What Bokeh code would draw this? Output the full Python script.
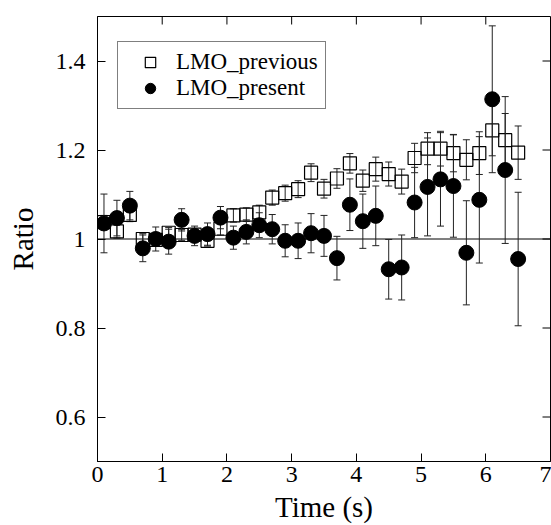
import math
from bokeh.plotting import figure
from bokeh.models import (FixedTicker, Span, Legend, LegendItem,
                          CustomJSTickFormatter, Range1d, ColumnDataSource)
from bokeh.embed import file_html
from bokeh.resources import INLINE

# ---- data ----
time_s = [0.1, 0.3, 0.5, 0.7, 0.9, 1.1, 1.3, 1.5, 1.7, 1.9, 2.1, 2.3, 2.5, 2.7,
          2.9, 3.1, 3.3, 3.5, 3.7, 3.9, 4.1, 4.3, 4.5, 4.7, 4.9, 5.1, 5.3, 5.5,
          5.7, 5.9, 6.1, 6.3, 6.5]

previous_ratio = [1.038, 1.017, 1.054, 1.000, 0.998, 1.014, 1.009, 1.010, 0.996,
                  1.023, 1.053, 1.055, 1.060, 1.093, 1.103, 1.112, 1.149, 1.113,
                  1.136, 1.170, 1.131, 1.157, 1.146, 1.129, 1.182, 1.203, 1.203,
                  1.193, 1.178, 1.193, 1.244, 1.222, 1.194]
previous_err = [0.015, 0.015, 0.015, 0.012, 0.012, 0.012, 0.012, 0.012, 0.012,
                0.014, 0.015, 0.015, 0.016, 0.017, 0.018, 0.019, 0.020, 0.021,
                0.022, 0.022, 0.024, 0.027, 0.027, 0.028, 0.033, 0.036, 0.039,
                0.042, 0.045, 0.048, 0.057, 0.060, 0.060]

present_ratio = [1.035, 1.047, 1.075, 0.979, 1.000, 0.994, 1.043, 1.007, 1.011,
                 1.048, 1.003, 1.016, 1.031, 1.022, 0.996, 0.996, 1.013, 1.007,
                 0.957, 1.077, 1.040, 1.052, 0.932, 0.936, 1.082, 1.117, 1.134,
                 1.119, 0.969, 1.088, 1.314, 1.155, 0.955]
present_err = [0.066, 0.040, 0.032, 0.030, 0.027, 0.028, 0.025, 0.022, 0.025,
               0.025, 0.026, 0.027, 0.028, 0.033, 0.036, 0.040, 0.044, 0.046,
               0.049, 0.058, 0.061, 0.067, 0.067, 0.073, 0.079, 0.110, 0.105,
               0.115, 0.117, 0.142, 0.165, 0.165, 0.150]

x_ticks = [0, 1, 2, 3, 4, 5, 6, 7]
y_ticks = [0.6, 0.8, 1.0, 1.2, 1.4]
X_MIN, X_MAX = 0, 7
Y_MIN, Y_MAX = 0.5, 1.5

FONT = "Liberation Serif"

prev_src = ColumnDataSource(dict(
    x=time_s, y=previous_ratio,
    lo=[v - e for v, e in zip(previous_ratio, previous_err)],
    hi=[v + e for v, e in zip(previous_ratio, previous_err)]))
pres_src = ColumnDataSource(dict(
    x=time_s, y=present_ratio,
    lo=[v - e for v, e in zip(present_ratio, present_err)],
    hi=[v + e for v, e in zip(present_ratio, present_err)]))

p = figure(width=551, height=525, x_range=Range1d(X_MIN, X_MAX),
           y_range=Range1d(Y_MIN, Y_MAX),
           output_backend="svg", toolbar_location=None,
           min_border_left=97, min_border_right=1, min_border_top=16,
           min_border_bottom=63)
p.xgrid.visible = False
p.ygrid.visible = False
p.outline_line_color = "black"
p.outline_line_width = 1
p.outline_line_alpha = 1
p.background_fill_color = "white"
p.border_fill_color = "white"

p.xaxis.ticker = FixedTicker(ticks=x_ticks)
p.yaxis.ticker = FixedTicker(ticks=y_ticks)
p.yaxis.formatter = CustomJSTickFormatter(code="return String(Math.round(tick*10)/10);")

for ax in p.axis:
    ax.major_tick_in = 8
    ax.major_tick_out = 0
    ax.minor_tick_in = 0
    ax.minor_tick_out = 0
    ax.axis_line_color = "black"
    ax.major_tick_line_color = "black"
    ax.major_label_text_font = FONT
    ax.major_label_text_color = "black"
    ax.major_label_text_font_size = "24px"
    ax.axis_label_text_font = FONT
    ax.axis_label_text_font_style = "normal"
    ax.axis_label_text_color = "black"
    ax.axis_label_text_font_size = "29px"

p.xaxis.axis_label = "Time (s)"
p.xaxis.major_label_standoff = 5
p.xaxis.axis_label_standoff = 6
p.yaxis.axis_label = "Ratio"
p.yaxis.major_label_standoff = 12
p.yaxis.axis_label_standoff = 14

# mirrored inward ticks on top and right frame edges
p.ray(x=x_ticks, y=[Y_MAX] * len(x_ticks), length=8, length_units="screen",
      angle=-math.pi / 2, line_color="black", line_width=1)
p.ray(x=[X_MAX] * len(y_ticks), y=y_ticks, length=8, length_units="screen",
      angle=math.pi, line_color="black", line_width=1)

p.add_layout(Span(location=1.0, dimension="width", line_color="black",
                  line_width=1, level="underlay"))

# previous series: error bars + open squares
p.segment(x0="x", y0="lo", x1="x", y1="hi", source=prev_src,
          line_color="#222222", line_width=1)
p.scatter("x", "lo", source=prev_src, marker="dash", size=7,
          line_color="#222222", line_width=1)
p.scatter("x", "hi", source=prev_src, marker="dash", size=7,
          line_color="#222222", line_width=1)
sq = p.scatter("x", "y", source=prev_src, marker="square", size=13,
               fill_color=None, line_color="black", line_width=1.2)

# present series: error bars + filled circles
p.segment(x0="x", y0="lo", x1="x", y1="hi", source=pres_src,
          line_color="#222222", line_width=1)
p.scatter("x", "lo", source=pres_src, marker="dash", size=7,
          line_color="#222222", line_width=1)
p.scatter("x", "hi", source=pres_src, marker="dash", size=7,
          line_color="#222222", line_width=1)
ci = p.scatter("x", "y", source=pres_src, marker="circle", size=15,
               fill_color="black", line_color="black")

legend = Legend(items=[LegendItem(label="LMO_previous", renderers=[sq]),
                       LegendItem(label="LMO_present", renderers=[ci])],
                location=(20, 352), glyph_width=50, glyph_height=26,
                label_standoff=1, padding=7, spacing=0,
                label_text_font=FONT, label_text_font_size="23px",
                label_text_color="black", border_line_color="black",
                border_line_width=1.5, background_fill_color="white",
                background_fill_alpha=1)
p.add_layout(legend, "center")

open("out.html", "w").write(file_html(p, INLINE))
